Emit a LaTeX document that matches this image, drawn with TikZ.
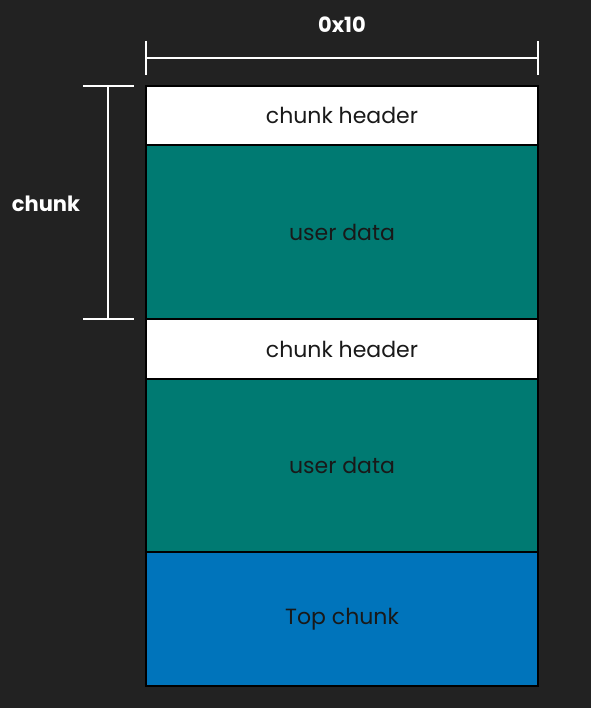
\documentclass[tikz,border=0pt]{standalone}
\usepackage{fontspec}
\setmainfont{Poppins}
\usepackage{tikz}
\usetikzlibrary{positioning}

\definecolor{bgdark}{HTML}{222222}
\definecolor{userteal}{HTML}{007A72}
\definecolor{topblue}{HTML}{0074BB}

\begin{document}
\begin{tikzpicture}[x=1pt, y=-1pt, node distance=0pt,
    chunkbox/.style={rectangle, draw=black, line width=2pt, outer sep=0pt, minimum width=392pt, font=\fontsize{22}{26}\selectfont, text=black!90},
    header/.style={chunkbox, fill=white, minimum height=59pt},
    userdata/.style={chunkbox, fill=userteal, minimum height=174pt},
    topchunk/.style={chunkbox, fill=topblue, minimum height=134pt},
    dim/.style={draw=white, line width=1.5pt},
    dimlabel/.style={text=white, font=\bfseries\fontsize{21}{25}\selectfont}]

    \fill[bgdark] (0,0) rectangle (591,708);
    \useasboundingbox (0,0) rectangle (591,708);

    \node[header, anchor=north west] (hdrA) at (146,86) {chunk header};
    \node[userdata, below=of hdrA] (dataA) {user data};
    \node[header, minimum height=60pt, below=of dataA] (hdrB) {chunk header};
    \node[userdata, minimum height=173pt, below=of hdrB] (dataB) {user data};
    \node[topchunk, below=of dataB] (top) {Top chunk};

    % width marker
    \coordinate (wL) at ([yshift=28pt]hdrA.north west);
    \coordinate (wR) at ([yshift=28pt]hdrA.north east);
    \draw[dim] (wL) -- (wR);
    \draw[dim] ([yshift=17pt]wL) -- ([yshift=-17pt]wL);
    \draw[dim] ([yshift=17pt]wR) -- ([yshift=-17pt]wR);
    \node[dimlabel] (wlabel) at (342,25) {0x10};

    % chunk marker
    \coordinate (cT) at ([xshift=-38pt]hdrA.north west);
    \coordinate (cB) at ([xshift=-38pt]dataA.south west);
    \draw[dim] (cT) -- (cB);
    \draw[dim] ([xshift=-25pt]cT) -- ([xshift=26pt]cT);
    \draw[dim] ([xshift=-25pt]cB) -- ([xshift=26pt]cB);
    \node[dimlabel] (clabel) at (46,204) {chunk};
\end{tikzpicture}
\end{document}
